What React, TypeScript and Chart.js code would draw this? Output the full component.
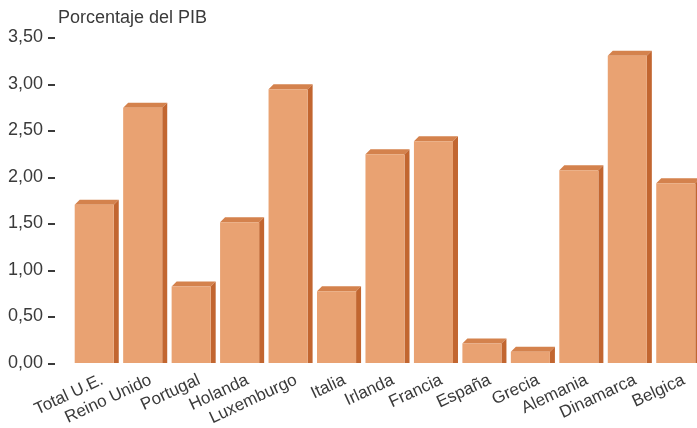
import { useEffect, useRef } from "react";
import { Chart, registerables } from "chart.js";

Chart.register(...registerables);

// Gasto como porcentaje del PIB por país
const countries = [
  "Total U.E.",
  "Reino Unido",
  "Portugal",
  "Holanda",
  "Luxemburgo",
  "Italia",
  "Irlanda",
  "Francia",
  "España",
  "Grecia",
  "Alemania",
  "Dinamarca",
  "Belgica",
];
const gdpShare = [1.7, 2.74, 0.82, 1.51, 2.94, 0.77, 2.24, 2.38, 0.21, 0.12, 2.07, 3.3, 1.93];
const yMin = 0;
const yMax = 3.5;
const yStep = 0.5;
const yTitle = "Porcentaje del PIB";

const FRONT = "#E9A272";
const TOP = "#D4824D";
const SIDE = "#C26630";
const TEXT = "#3a3a3a";
const DEPTH = 5;
const FONT = "'Liberation Sans', Arial, sans-serif";

// Top and right faces that give each bar its depth
const bar3d = {
  id: "bar3d",
  beforeDatasetsDraw(chart: any) {
    const ctx = chart.ctx;
    const meta = chart.getDatasetMeta(0);
    ctx.save();
    meta.data.forEach((bar: any) => {
      const { x, y, width, base } = bar.getProps(["x", "y", "width", "base"], true);
      const l = x - width / 2;
      const r = x + width / 2;
      ctx.fillStyle = TOP;
      ctx.beginPath();
      ctx.moveTo(l, y);
      ctx.lineTo(l + DEPTH, y - DEPTH);
      ctx.lineTo(r + DEPTH, y - DEPTH);
      ctx.lineTo(r, y);
      ctx.closePath();
      ctx.fill();
      ctx.fillStyle = SIDE;
      ctx.beginPath();
      ctx.moveTo(r, y);
      ctx.lineTo(r + DEPTH, y - DEPTH);
      ctx.lineTo(r + DEPTH, base);
      ctx.lineTo(r, base);
      ctx.closePath();
      ctx.fill();
    });
    ctx.restore();
  },
};

// Short dash after each value label and the axis caption
const axisDecor = {
  id: "axisDecor",
  afterDraw(chart: any) {
    const ctx = chart.ctx;
    const yScale = chart.scales.y;
    const left = chart.chartArea.left;
    ctx.save();
    ctx.strokeStyle = TEXT;
    ctx.lineWidth = 2;
    yScale.ticks.forEach((t: any) => {
      const py = Math.round(yScale.getPixelForValue(t.value)) + 1;
      ctx.beginPath();
      ctx.moveTo(left - 22, py);
      ctx.lineTo(left - 15, py);
      ctx.stroke();
    });
    ctx.fillStyle = TEXT;
    ctx.font = `18px ${FONT}`;
    ctx.textAlign = "left";
    ctx.textBaseline = "alphabetic";
    ctx.fillText(yTitle, 58, 23);
    ctx.restore();
  },
};

export default function App() {
  const canvasRef = useRef<HTMLCanvasElement | null>(null);

  useEffect(() => {
    if (!canvasRef.current) return;
    const chart = new Chart(canvasRef.current, {
      type: "bar",
      data: {
        labels: countries,
        datasets: [
          {
            data: gdpShare,
            backgroundColor: FRONT,
            borderWidth: 0,
            barPercentage: 0.806,
            categoryPercentage: 1,
          },
        ],
      },
      options: {
        animation: false,
        responsive: false,
        maintainAspectRatio: false,
        layout: { padding: { top: 37, right: 0, bottom: 0, left: 0 } },
        plugins: {
          legend: { display: false },
          tooltip: { enabled: false },
          title: { display: false },
        },
        scales: {
          x: {
            grid: { display: false },
            border: { display: false },
            ticks: {
              autoSkip: false,
              maxRotation: 25,
              minRotation: 25,
              color: TEXT,
              font: { family: FONT, size: 17 },
              padding: -1,
              labelOffset: 8,
            },
            afterFit(scale: any) {
              scale.height = 65;
            },
          },
          y: {
            min: yMin,
            max: yMax,
            grid: { display: false },
            border: { display: false },
            ticks: {
              stepSize: yStep,
              color: TEXT,
              font: { family: FONT, size: 18 },
              padding: 19,
              callback: (v: any) => Number(v).toFixed(2).replace(".", ","),
            },
            afterFit(scale: any) {
              scale.width = 70;
            },
          },
        },
      },
      plugins: [bar3d, axisDecor],
    });
    return () => chart.destroy();
  }, []);

  return (
    <div
      style={{
        position: "absolute",
        left: 0,
        top: 0,
        width: 697,
        height: 428,
        overflow: "hidden",
        background: "#ffffff",
      }}
    >
      <canvas ref={canvasRef} width={700} height={428} style={{ display: "block" }} />
    </div>
  );
}
